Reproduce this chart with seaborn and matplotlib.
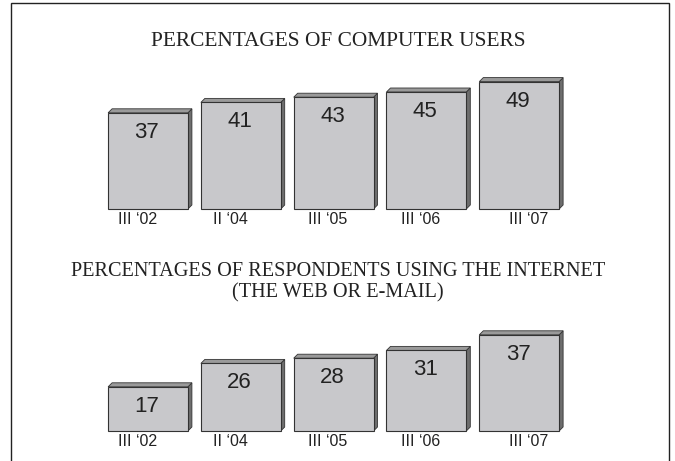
import matplotlib
matplotlib.use("Agg")
import matplotlib.pyplot as plt
import seaborn as sns
import pandas as pd
from matplotlib.patches import Polygon, Rectangle

sns.set_theme(style="white")
plt.rcParams['font.family'] = ['Liberation Sans', 'DejaVu Sans']

periods = ["III \u201802", "II \u201804", "III \u201805", "III \u201806", "III \u201807"]
computer_users = [37, 41, 43, 45, 49]
internet_users = [17, 26, 28, 31, 37]

title_top = "PERCENTAGES OF COMPUTER USERS"
title_bottom = "PERCENTAGES OF RESPONDENTS USING THE INTERNET\n(THE WEB OR E-MAIL)"

W, H = 675, 461
fig = plt.figure(figsize=(W / 100, H / 100), dpi=100)

FRONT = "#c8c8cb"
TOP = "#9a9a9a"
SIDE = "#6e6e6e"
EDGE = "#333333"
DEPTH = 4  # pixels

label_dx = [-10, -10, -6, -6, 9]

def panel(rect, values, ymax):
    ax = fig.add_axes(rect)
    df = pd.DataFrame({"period": periods, "value": values})
    sns.barplot(data=df, x="period", y="value", ax=ax, color=FRONT,
                width=0.86, edgecolor=EDGE, linewidth=0.8, saturation=1)
    ax.set_ylim(0, ymax)
    ax.set_xlim(-0.5, len(values) - 0.5)
    ax.axis("off")
    fig.canvas.draw()
    inv = ax.transData.inverted()
    x0d, y0d = inv.transform((0, 0))
    x1d, y1d = inv.transform((DEPTH, DEPTH))
    ddx, ddy = x1d - x0d, y1d - y0d
    for i, p in enumerate(ax.patches):
        xl = p.get_x()
        xr = xl + p.get_width()
        h = p.get_height()
        side = Polygon([(xr, 0), (xr, h), (xr + ddx, h + ddy), (xr + ddx, ddy)],
                       closed=True, facecolor=SIDE, edgecolor=EDGE, linewidth=0.6,
                       zorder=1, clip_on=False)
        top = Polygon([(xl, h), (xl + ddx, h + ddy), (xr + ddx, h + ddy), (xr, h)],
                      closed=True, facecolor=TOP, edgecolor=EDGE, linewidth=0.6,
                      zorder=1, clip_on=False)
        ax.add_patch(side)
        ax.add_patch(top)
        p.set_zorder(2)
        p.set_clip_on(False)
        cx = xl + p.get_width() / 2
        ax.annotate(str(values[i]), (cx, h), xytext=(-0.8, -14), textcoords="offset points",
                    ha="center", va="center", fontsize=16, color="#222222", zorder=3)
        ax.annotate(periods[i], (cx, 0), xytext=(label_dx[i] * 0.72, -7.5),
                    textcoords="offset points", ha="center", va="center",
                    fontsize=11.5, color="#222222", annotation_clip=False)
    return ax

# top panel: baseline at y=209 px, 2.6 px per unit
panel([101.6 / W, (H - 209) / H, 464 / W, 55 * 2.6 / H], computer_users, 55)
# bottom panel: baseline at y=431 px
panel([101.6 / W, (H - 431) / H, 464 / W, 40 * 2.6 / H], internet_users, 40)

fig.text(338 / W, 1 - 42 / H, title_top, ha="center", va="center",
         family=["Liberation Serif", "DejaVu Serif"], fontsize=15.4, color="#222222")
fig.text(338 / W, 1 - 282 / H, title_bottom, ha="center", va="center",
         family=["Liberation Serif", "DejaVu Serif"], fontsize=14.6, color="#222222",
         linespacing=1.15)

fig.patches.append(Rectangle((10.5 / W, -0.1), 658.5 / W, 1.1 - 3.5 / H,
                             transform=fig.transFigure, fill=False,
                             edgecolor="#222222", linewidth=1.0))

fig.savefig("out.png", dpi=100)
